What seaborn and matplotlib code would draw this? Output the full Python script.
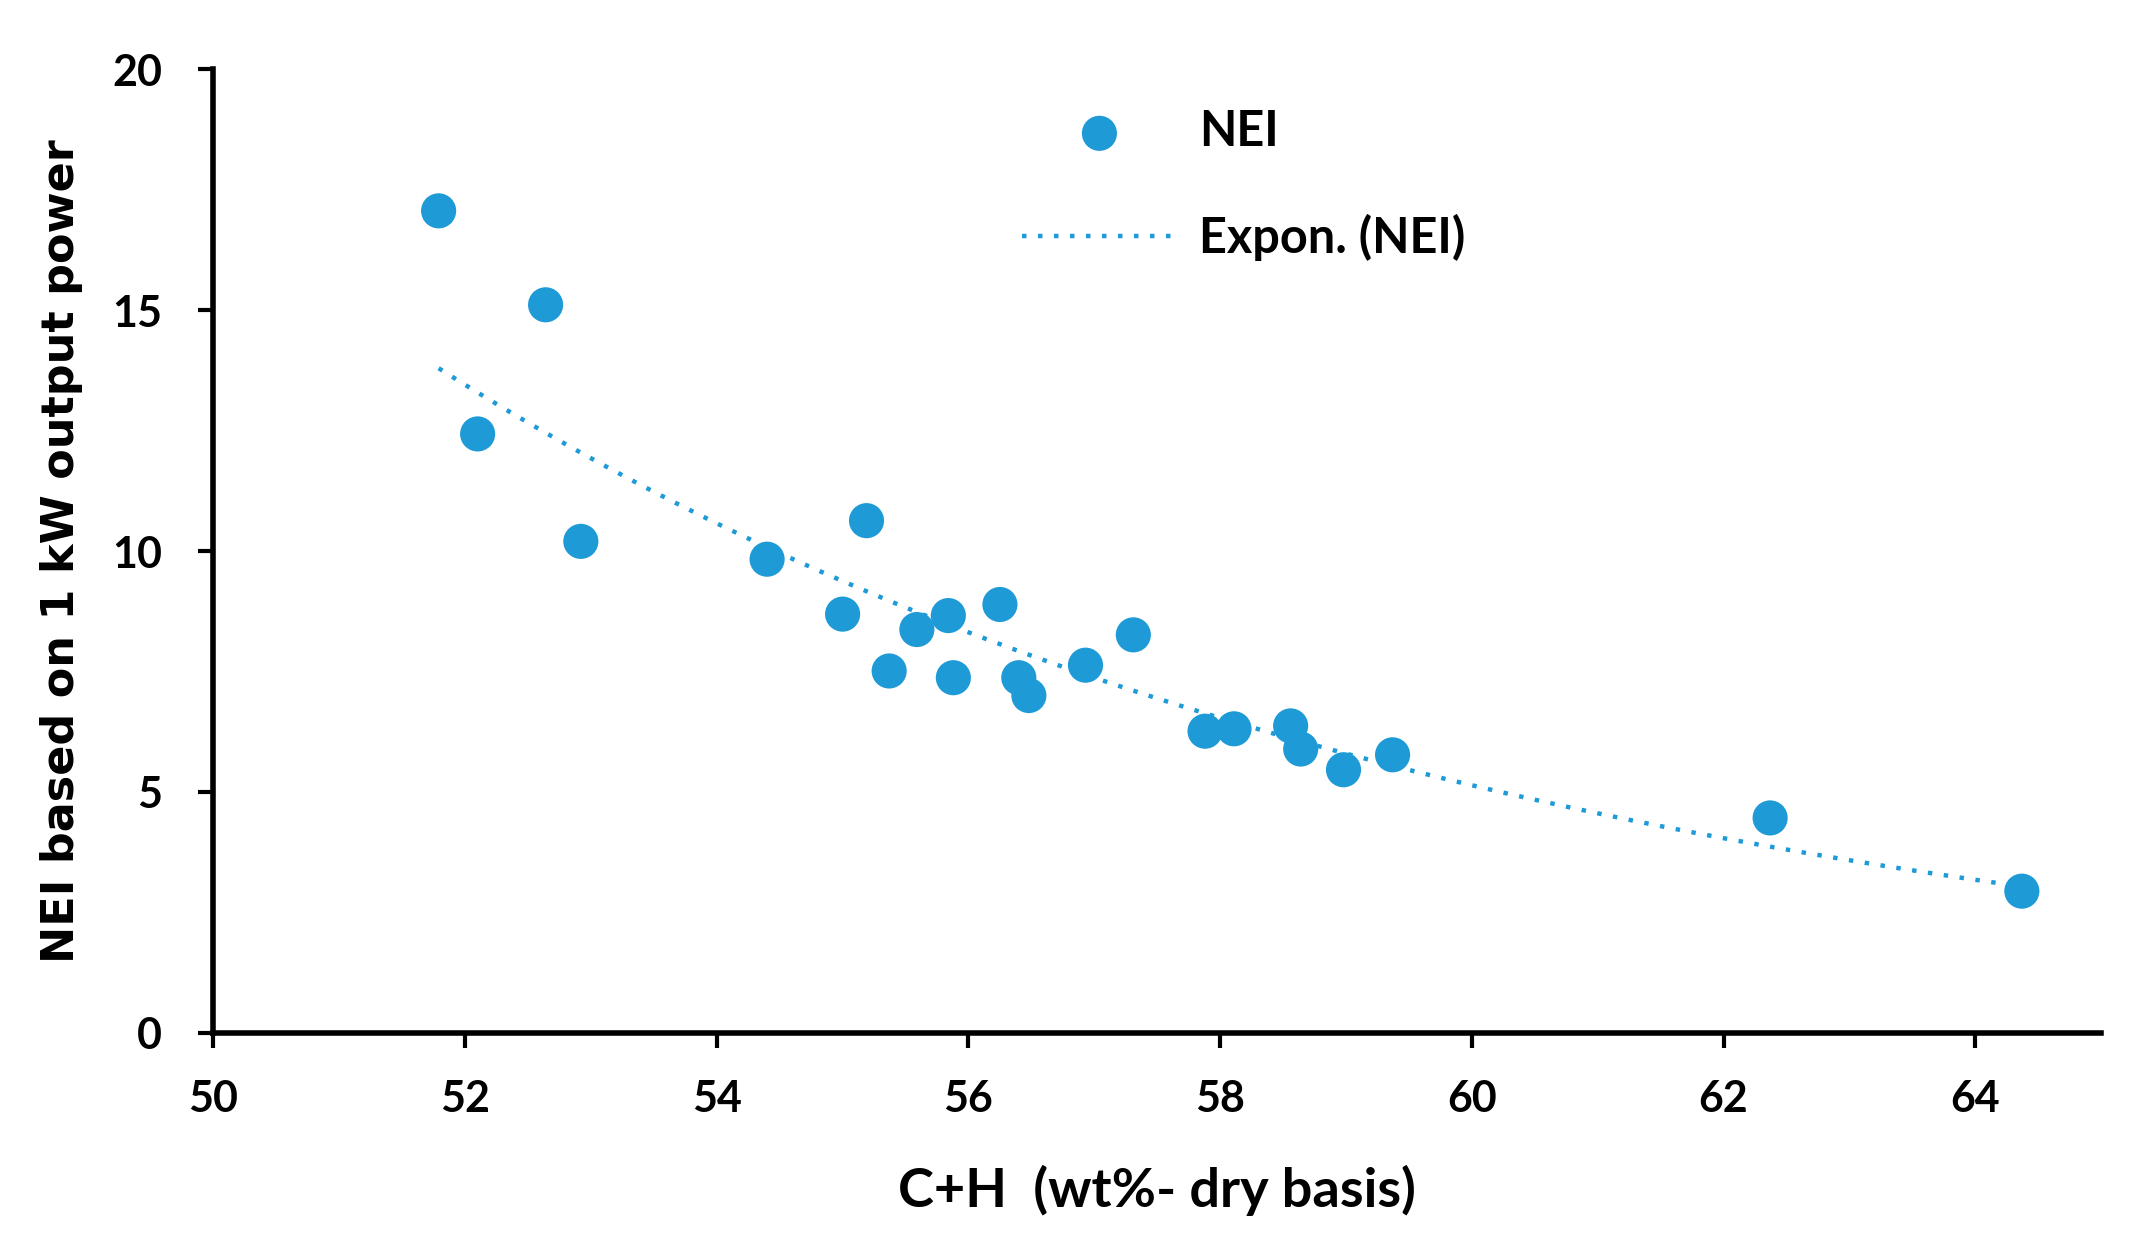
import numpy as np
import pandas as pd
import matplotlib.pyplot as plt
import seaborn as sns

# ─────────────────────────────────────────
# DATA
# ─────────────────────────────────────────
ch_content = [51.79, 52.64, 52.10, 52.92, 54.40, 55.19, 55.00, 55.37,
              55.59, 55.84, 55.88, 56.25, 56.40, 56.48, 56.93, 57.31,
              57.88, 58.11, 58.56, 58.64, 58.98, 59.37, 62.37, 64.37]
nei_values = [17.06, 15.11, 12.43, 10.20, 9.83, 10.63, 8.69, 7.51,
              8.37, 8.66, 7.37, 8.89, 7.37, 7.00, 7.63, 8.26,
              6.26, 6.31, 6.37, 5.89, 5.46, 5.77, 4.46, 2.94]
x_ticks = [50, 52, 54, 56, 58, 60, 62, 64]
y_ticks = [0, 5, 10, 15, 20]

COLOR = '#1E9BD7'

df = pd.DataFrame({'ch': ch_content, 'nei': nei_values})

# Excel-style exponential trendline: fit ln(y) = ln(a) + b*x
b, ln_a = np.polyfit(df['ch'], np.log(df['nei']), 1)
trend_x = np.linspace(df['ch'].min(), df['ch'].max(), 200)
trend = pd.DataFrame({'ch': trend_x, 'nei': np.exp(ln_a) * np.exp(b * trend_x)})

# ─────────────────────────────────────────
# PLOT
# ─────────────────────────────────────────
sns.set_style('ticks')
plt.rcParams['font.family'] = ['Lato', 'DejaVu Sans']
plt.rcParams['text.color'] = 'black'
plt.rcParams['axes.labelcolor'] = 'black'
plt.rcParams['xtick.color'] = 'black'
plt.rcParams['ytick.color'] = 'black'

fig = plt.figure(figsize=(21.55, 12.58), dpi=100)
ax = fig.add_axes([0.099, 0.179, 0.876, 0.766])

sns.scatterplot(data=df, x='ch', y='nei', ax=ax, color=COLOR, s=640,
                edgecolor='none', label='NEI', zorder=3)
sns.lineplot(data=trend, x='ch', y='nei', ax=ax, color=COLOR, lw=3.2,
             linestyle=(0, (1, 2.6)), label='Expon. (NEI)', zorder=2)

ax.set_xlim(50, 65)
ax.set_ylim(0, 20)
ax.set_xticks(x_ticks)
ax.set_yticks(y_ticks)

for side in ['top', 'right']:
    ax.spines[side].set_visible(False)
for side in ['left', 'bottom']:
    ax.spines[side].set_linewidth(4)
    ax.spines[side].set_color('black')
ax.tick_params(axis='both', direction='out', length=11, width=3,
               labelsize=31)
ax.tick_params(axis='x', pad=22)
ax.tick_params(axis='y', pad=26)
for lbl in ax.get_xticklabels() + ax.get_yticklabels():
    lbl.set_fontweight('bold')

ax.set_xlabel('C+H  (wt%- dry basis)', fontsize=39, fontweight='bold',
              labelpad=33)
ax.set_ylabel('NEI based on 1 kW output power', fontsize=32,
              fontweight='bold', family=['DejaVu Sans'], labelpad=21)

leg = ax.legend(loc='upper left', bbox_to_anchor=(0.405, 1.004),
                frameon=False, fontsize=35, handlelength=3.2,
                handletextpad=0.45, labelspacing=1.22, markerscale=1.0)
for t in leg.get_texts():
    t.set_fontweight('bold')

plt.savefig('out.png', dpi=100)
